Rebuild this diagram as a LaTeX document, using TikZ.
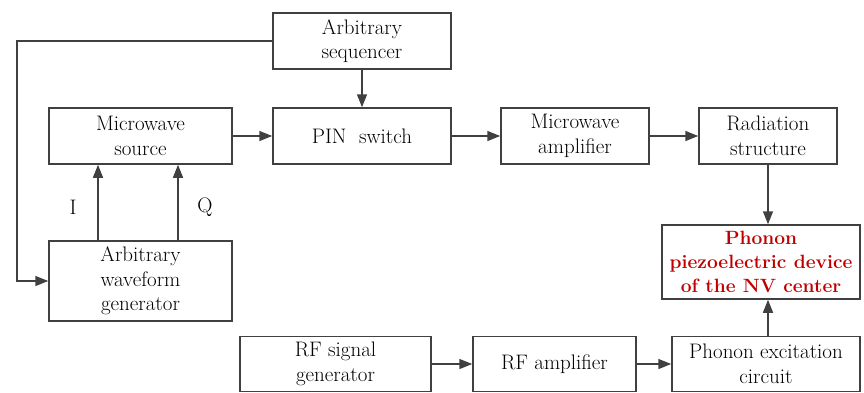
\documentclass[tikz,border=0pt]{standalone}
\usepackage{fontspec}
\setmainfont{Latin Modern Roman}
\usetikzlibrary{arrows.meta}
\definecolor{linec}{HTML}{404040}
\definecolor{redt}{HTML}{C00000}
\begin{document}
\begin{tikzpicture}[x=1pt,y=-1pt,
  box/.style={draw=linec,line width=1.5pt,minimum height=56pt,inner sep=0pt,align=center,font=\fontsize{21}{24.5}\selectfont},
  arr/.style={draw=linec,line width=1.5pt,-{Triangle[length=13pt,width=10pt]}},
  lbl/.style={font=\fontsize{21}{24}\selectfont}]
\useasboundingbox (0,0) rectangle (864,392);
\node[box,minimum width=178pt] (seq) at (362,41) {Arbitrary\\sequencer};
\node[box,minimum width=183pt] (mws) at (140.5,136) {Microwave\\source};
\node[box,minimum width=178pt] (pin) at (362,136) {PIN\ \ switch};
\node[box,minimum width=148pt] (mwa) at (575,136) {Microwave\\amplifier};
\node[box,minimum width=138pt] (rad) at (768,136) {Radiation\\structure};
\node[box,minimum width=198pt,minimum height=74pt,text=redt,font=\fontsize{19.2}{24}\selectfont\bfseries] (pho) at (761,262) {Phonon\\piezoelectric device\\of the NV center};
\node[box,minimum width=183pt,minimum height=80pt] (awg) at (140.5,281) {Arbitrary\\waveform\\generator};
\node[box,minimum width=191pt,minimum height=55pt] (rfg) at (335.5,364) {RF signal\\generator};
\node[box,minimum width=163pt,minimum height=55pt] (rfa) at (554.5,364) {RF amplifier};
\node[box,minimum width=188pt,minimum height=55pt] (pec) at (766,364) {Phonon excitation\\circuit};
\coordinate (lc) at (17,41);
\coordinate (ix) at (98,0);
\coordinate (qx) at (178,0);
\node[lbl] (il) at (73,207) {I};
\node[lbl] (ql) at (205,207) {Q};
\draw[arr] (seq.west) -- (lc) |- (awg.west);
\draw[arr] (seq.south) -- (pin.north);
\draw[arr] (mws.east) -- (pin.west);
\draw[arr] (pin.east) -- (mwa.west);
\draw[arr] (mwa.east) -- (rad.west);
\draw[arr] (rad.south) -- (rad.south |- pho.north);
\draw[arr] (awg.north -| ix) -- (mws.south -| ix);
\draw[arr] (awg.north -| qx) -- (mws.south -| qx);
\draw[arr] (rfg.east) -- (rfa.west);
\draw[arr] (rfa.east) -- (pec.west);
\draw[arr] (pec.north -| rad.south) -- (pho.south -| rad.south);
\end{tikzpicture}
\end{document}
